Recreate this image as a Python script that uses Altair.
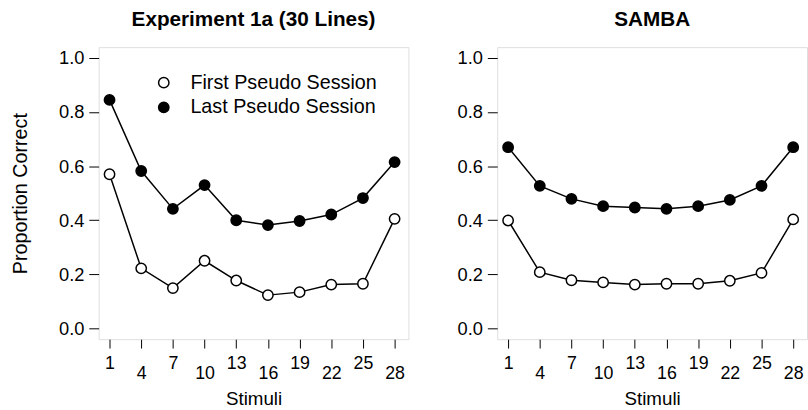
import altair as alt
import pandas as pd

stimuli = [1, 4, 7, 10, 13, 16, 19, 22, 25, 28]
exp_first = [0.570, 0.222, 0.149, 0.250, 0.177, 0.123, 0.134, 0.162, 0.165, 0.405]
exp_last = [0.845, 0.582, 0.442, 0.530, 0.400, 0.382, 0.397, 0.421, 0.482, 0.615]
samba_first = [0.399, 0.208, 0.178, 0.170, 0.162, 0.165, 0.165, 0.176, 0.205, 0.403]
samba_last = [0.670, 0.527, 0.479, 0.452, 0.447, 0.442, 0.452, 0.475, 0.527, 0.670]
series_names = ["First Pseudo Session", "Last Pseudo Session"]
panel_titles = ["Experiment 1a (30 Lines)", "SAMBA"]
y_ticks = [0.0, 0.2, 0.4, 0.6, 0.8, 1.0]

FONT = "Liberation Sans"
W, H = 314, 296


def panel(first, last, title, show_legend, show_ytitle):
    df = pd.DataFrame({
        "Stimulus": stimuli * 2,
        "Value": first + last,
        "Series": [series_names[0]] * len(stimuli) + [series_names[1]] * len(stimuli),
    })
    x = alt.X(
        "Stimulus:Q",
        scale=alt.Scale(domain=[-0.03, 29.31], nice=False, zero=False),
        axis=alt.Axis(
            values=stimuli, title="Stimuli", domain=False, grid=False,
            tickSize=9, tickColor="black", tickWidth=1,
            labelFontSize=18, labelColor="black", labelOverlap=False, labelFlush=False,
            labelPadding={"condition": {"test": "(datum.value - 1) % 6 == 3", "value": 17}, "value": 7},
            titleFontSize=19, titleFontWeight="normal", titleColor="black", titlePadding=7,
        ),
    )
    y = alt.Y(
        "Value:Q",
        scale=alt.Scale(domain=[-0.04, 1.04], nice=False, zero=False),
        axis=alt.Axis(
            values=y_ticks, format=".1f", title="Proportion Correct" if show_ytitle else None,
            domain=False, grid=False, tickSize=10, tickColor="black", tickWidth=1,
            labelFontSize=18.5, labelColor="black", labelPadding=5,
            titleFontSize=20, titleFontWeight="normal", titleColor="black", titlePadding=28,
        ),
    )
    base = alt.Chart(df)
    lines = base.mark_line(color="black", strokeWidth=1.5).encode(x=x, y=y, detail="Series:N")
    if show_legend:
        leg = alt.Legend(
            title=None, orient="none", legendX=56, legendY=26,
            labelFontSize=20, labelFont=FONT, labelColor="black", labelLimit=400,
            symbolSize=110, symbolStrokeColor="black", symbolStrokeWidth=1.5,
            symbolType="circle", rowPadding=5, labelOffset=17,
        )
    else:
        leg = None
    pts = base.mark_circle(stroke="black", strokeWidth=1.5, size=110, opacity=1).encode(
        x=x, y=y,
        fill=alt.Fill("Series:N", scale=alt.Scale(domain=series_names, range=["white", "black"]), legend=leg),
    )
    return alt.layer(lines, pts).properties(
        width=W, height=H,
        title=alt.TitleParams(title, fontSize=21, fontWeight="bold", font=FONT, anchor="middle",
                              offset=17, color="black"),
    )


left = panel(exp_first, exp_last, panel_titles[0], True, True)
right = panel(samba_first, samba_last, panel_titles[1], False, False)

chart = alt.hconcat(left, right, spacing=47).resolve_legend(fill="independent").properties(
    padding={"left": 10, "top": 6, "right": 0, "bottom": 0},
).configure_view(stroke="black", strokeWidth=1.5).configure(font=FONT, background="white")

chart.save("out.html", embed_options={"renderer": "svg", "actions": False})
